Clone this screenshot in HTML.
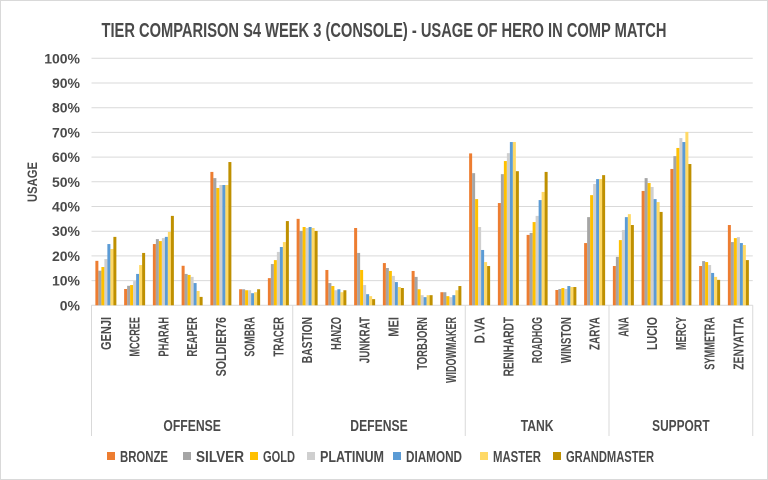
<!DOCTYPE html>
<html><head><meta charset="utf-8"><style>
html,body{margin:0;padding:0;background:#fff;}
svg{display:block;font-family:"Liberation Sans Narrow","Liberation Sans",sans-serif;}
svg text{font-weight:bold;}
</style></head><body>
<svg id="chart" width="768" height="480" viewBox="0 0 768 480">
<rect x="0.5" y="0.5" width="767" height="479" fill="#fff" stroke="#d9d9d9"/>
<text x="384" y="37" text-anchor="middle" font-size="20" fill="#4a4a4a" textLength="565" lengthAdjust="spacingAndGlyphs">TIER COMPARISON S4 WEEK 3 (CONSOLE) - USAGE OF HERO IN COMP MATCH</text>
<text transform="translate(37,182) rotate(-90)" text-anchor="middle" font-size="14" fill="#4a4a4a" textLength="40" lengthAdjust="spacingAndGlyphs">USAGE</text>
<g id="grid"></g><g id="bars"></g><g id="xlabels"></g><g id="legend"></g>
</svg>
<script>
const heroes=["GENJI","MCCREE","PHARAH","REAPER","SOLDIER76","SOMBRA","TRACER","BASTION","HANZO","JUNKRAT","MEI","TORBJORN","WIDOWMAKER","D.VA","REINHARDT","ROADHOG","WINSTON","ZARYA","ANA","LUCIO","MERCY","SYMMETRA","ZENYATTA"];
const groups=["OFFENSE","DEFENSE","TANK","SUPPORT"];
const groupSizes=[7,6,5,5];
const tiers=["BRONZE","SILVER","GOLD","PLATINUM","DIAMOND","MASTER","GRANDMASTER"];
const yTicks=[0,10,20,30,40,50,60,70,80,90,100];
const bronze=[18,6.6,24.8,16,54,6.5,11,35,14.3,31.3,17.1,13.9,5.3,61.5,41.4,28.5,6.2,25.2,15.9,46.3,55.2,15.9,32.5];
const silver=[14,7.9,26.8,12.7,51.5,6.5,16.7,30.1,9,21.2,15.1,11.5,5.3,53.5,53.1,29.3,6.6,35.7,19.6,51.5,60.4,17.9,25.6];
const gold=[15.5,8.2,26,12.3,47.5,6.1,18.3,31.7,7.8,14.3,13.9,6.5,3.7,43,58.4,33.7,7,44.6,26.4,49.5,63.7,17.5,27.2];
const platinum=[18.7,9.8,27.2,11.5,48.7,6.1,21.6,31.3,6.1,8.2,11.9,4.1,3.3,31.7,61.6,36.2,6.6,49.1,30.5,47.9,67.7,16.3,27.6];
const diamond=[24.8,12.7,27.7,9,48.7,4.9,23.6,31.7,6.5,4.5,9.4,3.3,4.1,22.4,66.1,42.6,7.8,51.1,35.7,43,66.1,13.1,25.2];
const master=[22.8,16.3,29.7,5.8,48.7,5.3,25.6,31.3,5.3,3.7,7.4,4.1,6.1,17.5,66.1,45.9,7.4,51.1,36.9,41.8,70.2,11.5,24.4];
const grandmaster=[27.7,21.2,36.2,3.4,58,6.5,34.1,30.1,6.1,2.5,7,4.1,7.8,15.9,54.3,54,7.4,52.7,32.5,37.8,57.2,10.3,18.3];
const series=[bronze,silver,gold,platinum,diamond,master,grandmaster];
const colors=["#ED7D31","#A5A5A5","#FFC000","#CFCFCF","#5B9BD5","#FFD966","#BF9000"];
const NS="http://www.w3.org/2000/svg";
const X0=91.5,CW=28.75,Y0=305.3,YH=247,BW=3;
const yS=v=>Y0-v/100*YH;
function mk(t,a,p){const e=document.createElementNS(NS,t);for(const k in a)e.setAttribute(k,a[k]);p.appendChild(e);return e;}
const grid=document.getElementById('grid');
yTicks.forEach(t=>{
  if(t>0){const l=mk('line',{x1:X0,x2:X0+CW*23,y1:yS(t),y2:yS(t),stroke:'#d9d9d9','stroke-width':1},grid);
  
  }
  const tx=mk('text',{x:80,y:yS(t)+5,'text-anchor':'end','font-size':14,fill:'#4a4a4a'},grid);
  tx.textContent=t+'%';
  
  
});
const ax=mk('line',{x1:X0,x2:X0+CW*23,y1:Y0,y2:Y0,stroke:'#d9d9d9','stroke-width':1},grid);


const bars=document.getElementById('bars');
heroes.forEach((h,i)=>{
  const cx=X0+CW*i+(CW-7*BW)/2;
  series.forEach((s,j)=>{
    const r=mk('rect',{x:cx+j*BW,y:yS(s[i]),width:BW,height:Y0-yS(s[i]),fill:colors[j]},bars);
    
    
  });
});
const xl=document.getElementById('xlabels');
heroes.forEach((h,i)=>{
  const cx=X0+CW*i+CW/2+5;
  const t=mk('text',{transform:`translate(${cx},317) rotate(-90)`,'text-anchor':'end','font-size':15,fill:'#4a4a4a',textLength:h.length*6.6,lengthAdjust:'spacingAndGlyphs'},xl);
  t.textContent=h;
  
  
});
const bounds=[0];groupSizes.forEach(g=>bounds.push(bounds[bounds.length-1]+g));
bounds.forEach(b=>{
  const l=mk('line',{x1:X0+CW*b,x2:X0+CW*b,y1:Y0,y2:436,stroke:'#d9d9d9','stroke-width':1},xl);
  
  
});
groups.forEach((g,k)=>{
  const mid=X0+CW*(bounds[k]+bounds[k+1])/2;
  const t=mk('text',{x:mid,y:431,'text-anchor':'middle','font-size':16,fill:'#4a4a4a',textLength:g.length*8.2,lengthAdjust:'spacingAndGlyphs'},xl);
  t.textContent=g;
  
  
});
const lg=document.getElementById('legend');
const lx=[107,183,250,307,393,480,553];
tiers.forEach((t,j)=>{
  const g=mk('g',{},lg);
  
  
  mk('rect',{x:lx[j],y:452,width:8,height:8,fill:colors[j]},g);
  const tx=mk('text',{x:lx[j]+13,y:462,'font-size':16,fill:'#4a4a4a',textLength:t.length*8,lengthAdjust:'spacingAndGlyphs'},g);
  tx.textContent=t;
});
</script>
</body></html>
